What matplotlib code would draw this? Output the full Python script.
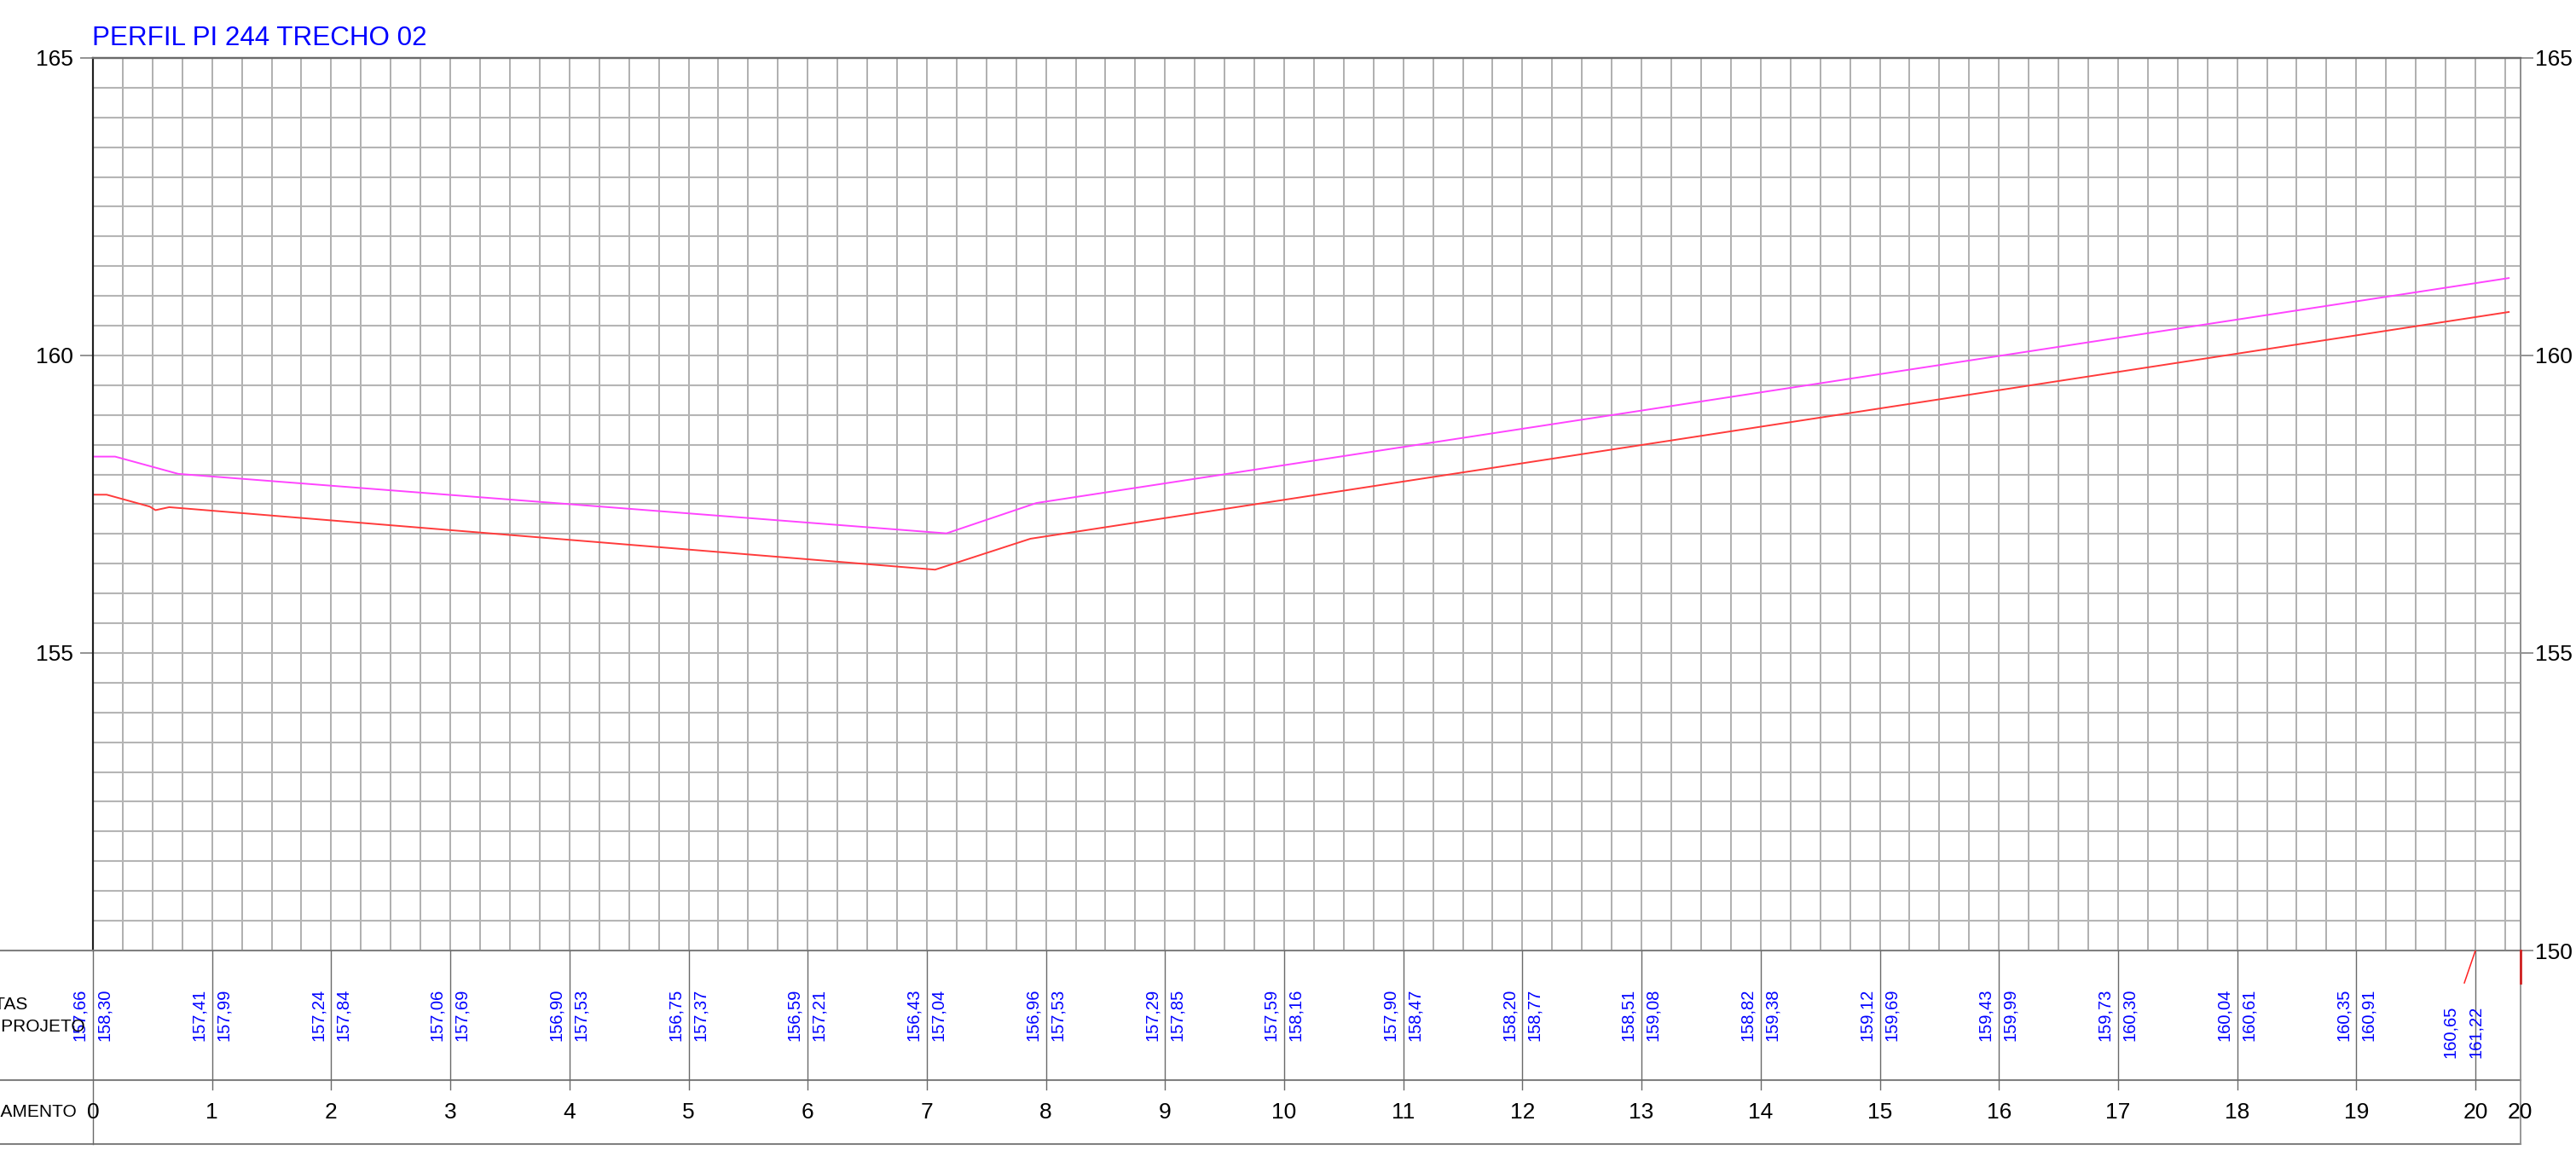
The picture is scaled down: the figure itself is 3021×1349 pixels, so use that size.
import matplotlib
matplotlib.use('Agg')
import matplotlib.pyplot as plt
import matplotlib.transforms as mtransforms
import numpy as np

plt.rcParams['font.family'] = ['Liberation Sans', 'DejaVu Sans']

# ---------------- data ----------------
title = "PERFIL PI 244 TRECHO 02"
stations = list(range(21))
cota_terreno = [157.66, 157.41, 157.24, 157.06, 156.90, 156.75, 156.59, 156.43,
                156.96, 157.29, 157.59, 157.90, 158.20, 158.51, 158.82, 159.12,
                159.43, 159.73, 160.04, 160.35, 160.65]
cota_projeto = [158.30, 157.99, 157.84, 157.69, 157.53, 157.37, 157.21, 157.04,
                157.53, 157.85, 158.16, 158.47, 158.77, 159.08, 159.38, 159.69,
                159.99, 160.30, 160.61, 160.91, 161.22]
# polyline vertices (station, elevation)
red_x = [0.0, 0.115, 0.477, 0.525, 0.64, 7.07, 7.87, 20.28]
red_y = [157.66, 157.66, 157.46, 157.40, 157.45, 156.40, 156.92, 160.73]
mag_x = [0.0, 0.186, 0.716, 7.165, 7.92, 20.28]
mag_y = [158.30, 158.30, 158.01, 157.01, 157.52, 161.30]
yticks_left = [155, 160, 165]
yticks_right = [150, 155, 160, 165]
xtick_labels = [str(i) for i in stations]
end_station = 20.377
end_label = "20"
row_labels = ["COTAS", "COTAS PROJETO", "ESTAQUEAMENTO"]

# ---------------- layout ----------------
W, H = 3021, 1349
fig = plt.figure(figsize=(W / 100, H / 100), dpi=100)
pl, pr, pt, pb = 109, 2955.7, 67.9, 1115
pband = 1341.7

ax = fig.add_axes([pl / W, 1 - pb / H, (pr - pl) / W, (pb - pt) / H])
ax.set_xlim(0, end_station)
ax.set_ylim(150, 165)

# grid
for gx in np.arange(0.25, end_station, 0.25):
    ax.axvline(gx, color='#9a9a9a', lw=1.1, zorder=1)
for gy in np.arange(150.5, 165, 0.5):
    ax.axhline(gy, color='#b5b5b5', lw=1.5, zorder=1)

ax.plot(mag_x, mag_y, color='#FF44FF', lw=1.4, zorder=3)
ax.plot(red_x, red_y, color='#FF3B3B', lw=1.4, zorder=3)

ax.set_xticks([])
ax.set_yticks(yticks_left)
ax.set_yticklabels([str(v) for v in yticks_left])
ax.tick_params(axis='y', direction='out', length=10.8, width=1.2, color='#808080',
               labelsize=19, pad=5.5)
axr = ax.twinx()
axr.set_ylim(150, 165)
axr.set_yticks(yticks_right)
axr.set_yticklabels([str(v) for v in yticks_right])
axr.tick_params(axis='y', direction='out', length=10.8, width=1.2, color='#808080',
                labelsize=19, pad=1.5)
for a in (ax, axr):
    a.spines['top'].set_color('#6a6a6a'); a.spines['top'].set_linewidth(1.6)
    a.spines['left'].set_color('#202020'); a.spines['left'].set_linewidth(1.5)
    a.spines['right'].set_color('#909090'); a.spines['right'].set_linewidth(1.3)
    a.spines['bottom'].set_visible(False)

# ---------------- band ----------------
ax2 = fig.add_axes([pl / W, 1 - pband / H, (pr - pl) / W, (pband - pb) / H])
ax2.set_xlim(0, end_station)
ax2.set_ylim(0, 1)
ax2.axis('off')

def by(px):
    return (pband - px) / (pband - pb)

y_sep = by(1266.7)
y_tick = by(1278)
y_lab = by(1305)
y_val = by(1190.5)
y_val_end = by(1210)

trans = mtransforms.blended_transform_factory(fig.transFigure, ax2.transData)
for yy in (1.0, y_sep, 0.0):
    ax2.plot([0, pr / W], [yy, yy], color='#808080', lw=1.5, transform=trans,
             clip_on=False, zorder=2)

for s in stations:
    ax2.plot([s, s], [0.0 if s == 0 else y_tick, 1.0], color='#6a6a6a', lw=1.0,
             clip_on=False, zorder=2)
ax2.plot([end_station, end_station], [0, 1], color='#909090', lw=1.3, clip_on=False)

for s in stations:
    ax2.text(s, y_lab, xtick_labels[s], ha='center', va='center', fontsize=19)
ax2.text(end_station, y_lab, end_label, ha='center', va='center', fontsize=19)

def fmt(v):
    return f"{v:.2f}".replace('.', ',')

for s, t, p in zip(stations, cota_terreno, cota_projeto):
    if s < 20:
        yv, dl, dr = y_val, -11.0, 9.9
    else:
        yv, dl, dr = y_val_end, -21.6, 0.0
    ax2.annotate(fmt(t), xy=(s, yv), xytext=(dl, 0), textcoords='offset points',
                 rotation=90, ha='center', va='center', color='#0000FF', fontsize=14.5)
    ax2.annotate(fmt(p), xy=(s, yv), xytext=(dr, 0), textcoords='offset points',
                 rotation=90, ha='center', va='center', color='#0000FF', fontsize=14.5)

# small red marks at the end of the profile
ax2.plot([stations[-1] - 0.093, stations[-1]], [by(1153), 1.0], color='#FF2020', lw=1.1)
ax2.plot([end_station, end_station], [by(1153), 1.0], color='#D02020', lw=2.0,
         clip_on=False)

# row labels (cut off at the left edge as in the drawing)
fig.text(32 / W, by(1178), row_labels[0], transform=trans, ha='right', va='center',
         fontsize=15)
fig.text(100 / W, by(1204), row_labels[1], transform=trans, ha='right', va='center',
         fontsize=15)
fig.text(90 / W, by(1304), row_labels[2], transform=trans, ha='right', va='center',
         fontsize=15)

# title
fig.text(108 / W, 1 - 52.7 / H, title, color='#0000FF', fontsize=22.6, va='baseline',
         ha='left')

fig.savefig('out.png', dpi=100)
